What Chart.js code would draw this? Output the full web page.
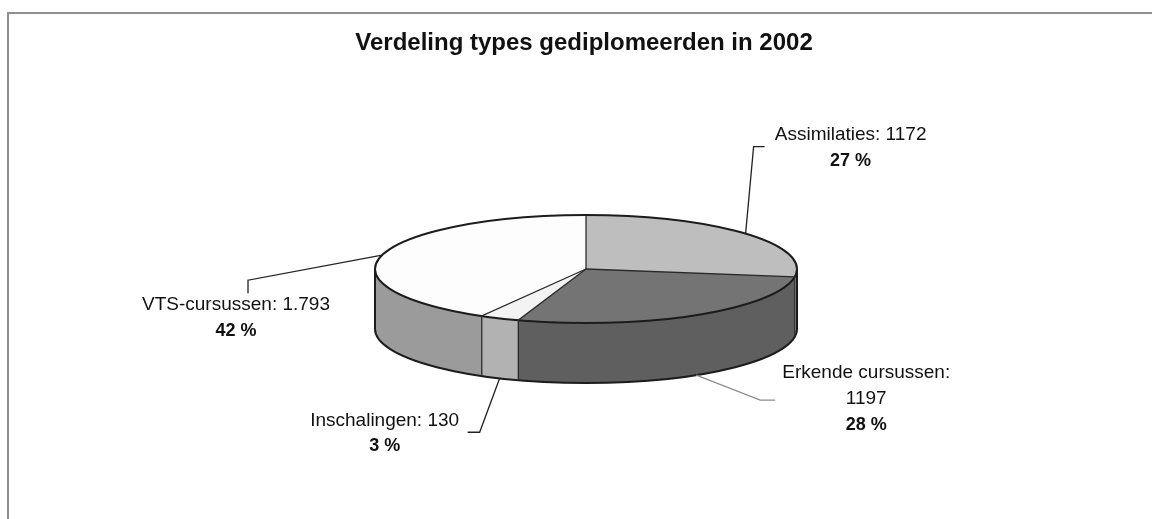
<!DOCTYPE html>
<html>
<head>
<meta charset="utf-8">
<script src="https://cdn.jsdelivr.net/npm/chart.js@4.4.0/dist/chart.umd.min.js"></script>
<style>
  body { margin: 0; background: #fff; }
  #wrap { width: 1152px; height: 519px; }
</style>
</head>
<body>
<div id="wrap"><canvas id="pieChart"></canvas></div>
<script>
// data, clockwise from 12 o'clock
const categories = ['Assimilaties', 'Erkende cursussen', 'Inschalingen', 'VTS-cursussen'];
const counts = [1172, 1197, 130, 1793];
const countLabels = ['1172', '1197', '130', '1.793'];

const total = counts.reduce((a, b) => a + b, 0);
const percentLabels = counts.map((v) => Math.round((v / total) * 100) + ' %');

const palette = {
  top: ['#bebebe', '#747474', '#f3f3f3', '#fdfdfd'],
  side: ['#a9a9a9', '#5f5f5f', '#b2b2b2', '#9b9b9b'],
  edge: '#1c1c1c',
  frame: '#8f8f8f',
  text: '#111',
};

// flattened pie on screen
const view = { cx: 586, cy: 269, rx: 211, ry: 54, depth: 60 };

// leader line + label offsets from the anchor point of each slice
const labelLayout = [
  { elbow: [8, -87], end: [19, -87], text: [105, -99], wrap: false, line: '#222' },
  { elbow: [64, 25], end: [79, 25], text: [170, -2], wrap: true, line: '#8c8c8c' },
  { elbow: [-20, 54], end: [-32, 54], text: [-115, 42], wrap: false, line: '#222' },
  { elbow: [-134, 25], end: [-134, 38], text: [-146, 50], wrap: false, line: '#222' },
];

function pt(a, dy) {
  return [view.cx + view.rx * Math.cos(a), view.cy + view.ry * Math.sin(a) + (dy || 0)];
}

function drawSides(ctx, arcs) {
  arcs.forEach((arc, i) => {
    const a1 = Math.max(arc.startAngle, 0);
    const a2 = Math.min(arc.endAngle, Math.PI);
    if (a2 <= a1) return;
    ctx.beginPath();
    ctx.ellipse(view.cx, view.cy, view.rx, view.ry, 0, a1, a2);
    ctx.ellipse(view.cx, view.cy + view.depth, view.rx, view.ry, 0, a2, a1, true);
    ctx.closePath();
    ctx.fillStyle = palette.side[i];
    ctx.fill();
  });
}

function drawOutlines(ctx, arcs) {
  ctx.strokeStyle = palette.edge;
  ctx.lineWidth = 2;
  ctx.beginPath();
  ctx.ellipse(view.cx, view.cy, view.rx, view.ry, 0, 0, Math.PI * 2);
  ctx.stroke();
  ctx.beginPath();
  ctx.ellipse(view.cx, view.cy + view.depth, view.rx, view.ry, 0, 0, Math.PI);
  ctx.stroke();
  ctx.beginPath();
  [0, Math.PI].forEach((a) => {
    const p = pt(a);
    ctx.moveTo(p[0], p[1]);
    ctx.lineTo(p[0], p[1] + view.depth);
  });
  ctx.stroke();

  ctx.lineWidth = 1.3;
  ctx.strokeStyle = '#2a2a2a';
  arcs.forEach((arc) => {
    const p = pt(arc.startAngle);
    ctx.beginPath();
    ctx.moveTo(view.cx, view.cy);
    ctx.lineTo(p[0], p[1]);
    const s = ((arc.startAngle % (2 * Math.PI)) + 2 * Math.PI) % (2 * Math.PI);
    if (s > 0 && s < Math.PI) {
      ctx.lineTo(p[0], p[1] + view.depth);
    }
    ctx.stroke();
  });
}

function drawLabels(ctx, arcs) {
  arcs.forEach((arc, i) => {
    const mid = (arc.startAngle + arc.endAngle) / 2;
    const front = Math.sin(mid) > 0;
    const anchor = pt(mid, front ? view.depth : 0);
    const lay = labelLayout[i];

    ctx.strokeStyle = lay.line;
    ctx.lineWidth = 1.3;
    ctx.beginPath();
    ctx.moveTo(anchor[0], anchor[1]);
    ctx.lineTo(anchor[0] + lay.elbow[0], anchor[1] + lay.elbow[1]);
    ctx.lineTo(anchor[0] + lay.end[0], anchor[1] + lay.end[1]);
    ctx.stroke();

    const lines = lay.wrap
      ? [categories[i] + ':', countLabels[i]]
      : [categories[i] + ': ' + countLabels[i]];
    const tx = anchor[0] + lay.text[0];
    let ty = anchor[1] + lay.text[1];
    ctx.fillStyle = palette.text;
    ctx.textAlign = 'center';
    ctx.textBaseline = 'middle';
    ctx.font = '19px "Liberation Sans", Arial, sans-serif';
    lines.forEach((l) => {
      ctx.fillText(l, tx, ty);
      ty += 26;
    });
    ctx.font = 'bold 18px "Liberation Sans", Arial, sans-serif';
    ctx.fillText(percentLabels[i], tx, ty);
  });
}

const pie3d = {
  id: 'pie3d',
  beforeDraw(chart) {
    const ctx = chart.ctx;
    ctx.save();
    ctx.fillStyle = '#fff';
    ctx.fillRect(0, 0, chart.width, chart.height);
    ctx.strokeStyle = palette.frame;
    ctx.lineWidth = 2;
    ctx.beginPath();
    ctx.moveTo(chart.width, 13);
    ctx.lineTo(8, 13);
    ctx.lineTo(8, chart.height);
    ctx.stroke();
    ctx.restore();
  },
  beforeDatasetsDraw(chart) {
    const ctx = chart.ctx;
    const arcs = chart.getDatasetMeta(0).data;
    const a0 = arcs[0];
    ctx.save();
    drawSides(ctx, arcs);
    // squash the library's pie into the top face
    ctx.translate(view.cx, view.cy);
    ctx.scale(view.rx / a0.outerRadius, view.ry / a0.outerRadius);
    ctx.translate(-a0.x, -a0.y);
  },
  afterDatasetsDraw(chart) {
    const ctx = chart.ctx;
    ctx.restore();
    const arcs = chart.getDatasetMeta(0).data;
    ctx.save();
    drawOutlines(ctx, arcs);
    drawLabels(ctx, arcs);
    ctx.restore();
  },
};

new Chart(document.getElementById('pieChart'), {
  type: 'pie',
  data: {
    labels: categories,
    datasets: [
      {
        data: counts,
        backgroundColor: palette.top,
        borderWidth: 0,
        clip: false,
      },
    ],
  },
  options: {
    responsive: true,
    maintainAspectRatio: false,
    animation: false,
    events: [],
    layout: { padding: { left: 16 } },
    plugins: {
      legend: { display: false },
      tooltip: { enabled: false },
      title: {
        display: true,
        text: 'Verdeling types gediplomeerden in 2002',
        color: palette.text,
        font: { size: 24, weight: 'bold', family: '"Liberation Sans", Arial, sans-serif' },
        padding: { top: 29, bottom: 10 },
      },
    },
  },
  plugins: [pie3d],
});
</script>
</body>
</html>
